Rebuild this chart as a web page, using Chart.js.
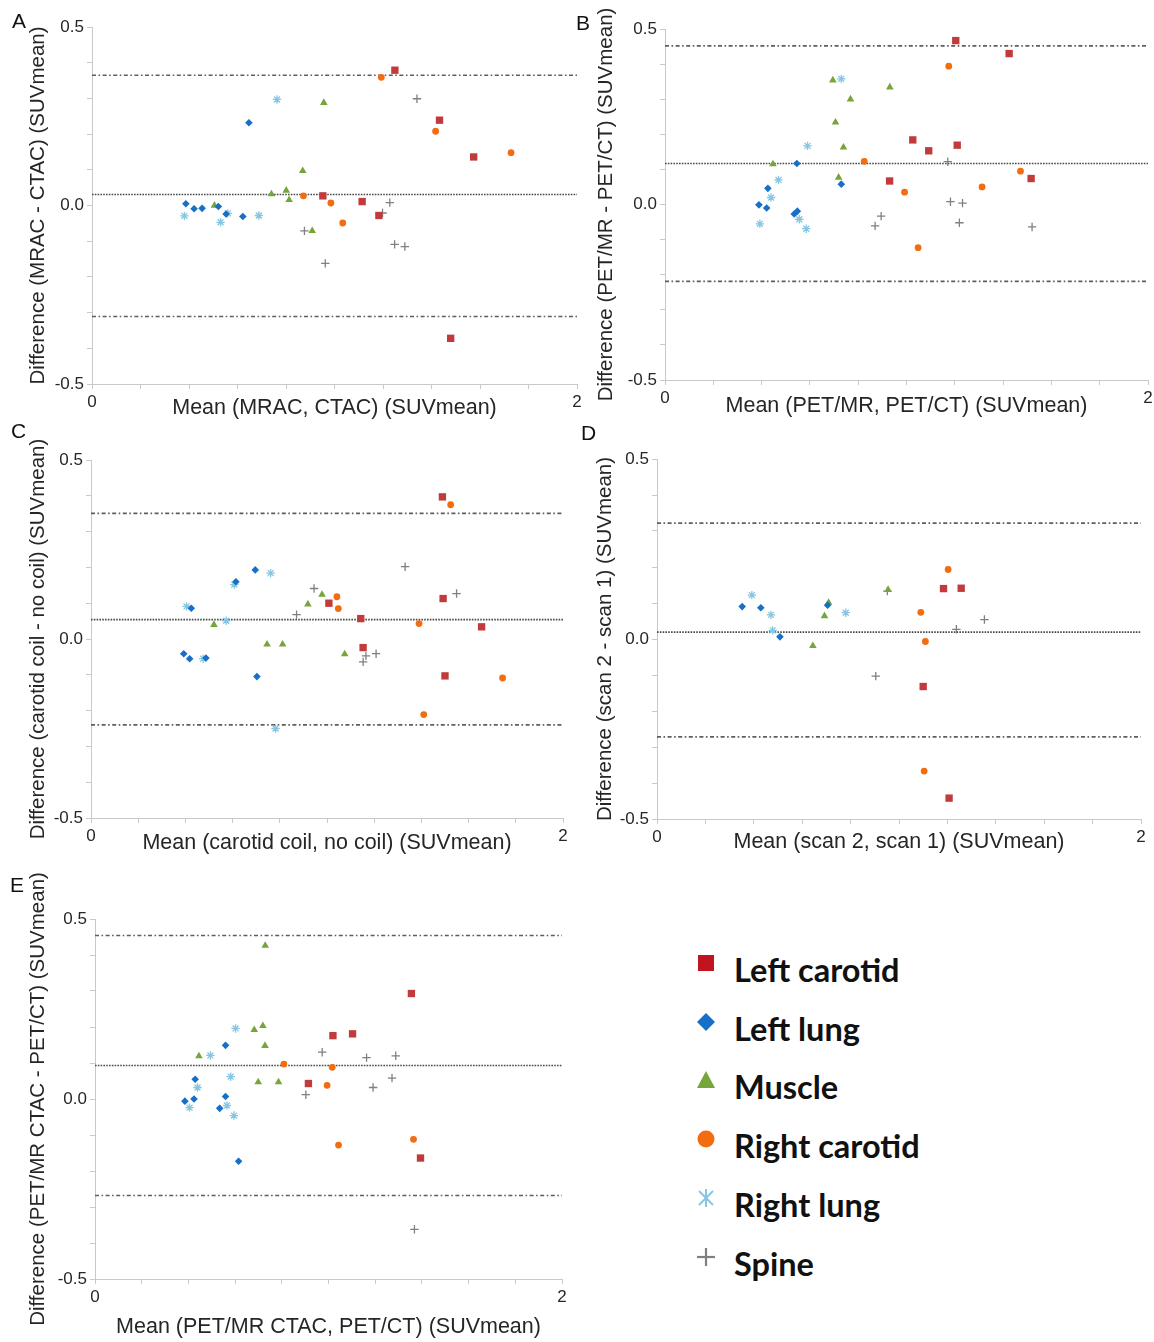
<!DOCTYPE html>
<html><head><meta charset="utf-8">
<script src="https://cdn.jsdelivr.net/npm/chart.js@4/dist/chart.umd.min.js"></script>
<style>
body{margin:0;background:#fff;width:1154px;height:1342px;position:relative;overflow:hidden;font-family:"Liberation Sans",Arial,sans-serif}
.pan{position:absolute}
.letter{position:absolute;font-size:21px;color:#111;line-height:1}
.lrow{position:absolute;font-family:Lato,"Open Sans",sans-serif;font-weight:700;font-size:32.5px;color:#111;line-height:40px;white-space:nowrap}
.lmark{position:absolute}
</style></head><body>
<script>
// ---------- categories ----------
const seriesNames = ['Left carotid','Left lung','Muscle','Right carotid','Right lung','Spine'];
const xTickLabels = ['0','2'];
const yTickLabels = ['0.5','0.0','-0.5'];

// ---------- Panel A: MRAC vs CTAC ----------
const aLeftCarotid  = [[1.249,0.379],[1.433,0.239],[1.574,0.136],[0.952,0.027],[1.114,0.011],[1.183,-0.028],[1.479,-0.372]];
const aLeftLung     = [[0.647,0.232],[0.387,0.005],[0.421,-0.009],[0.454,-0.008],[0.521,-0.003],[0.553,-0.024],[0.622,-0.031]];
const aMuscle       = [[0.956,0.288],[0.869,0.097],[0.740,0.032],[0.801,0.042],[0.813,0.016],[0.505,0.000],[0.908,-0.071]];
const aRightCarotid = [[1.193,0.359],[1.417,0.208],[1.728,0.148],[0.872,0.027],[0.985,0.007],[1.034,-0.049]];
const aRightLung    = [[0.763,0.297],[0.381,-0.029],[0.530,-0.047],[0.560,-0.022],[0.688,-0.028]];
const aSpine        = [[1.340,0.299],[1.228,0.008],[1.198,-0.021],[0.876,-0.071],[0.962,-0.162],[1.248,-0.109],[1.290,-0.115]];
const aLimits       = [0.365, 0.031, -0.311];

// ---------- Panel B: PET/MR vs PET/CT ----------
const bLeftCarotid  = [[1.204,0.467],[1.425,0.430],[1.026,0.184],[1.092,0.153],[1.210,0.169],[0.930,0.067],[1.516,0.074]];
const bLeftLung     = [[0.546,0.117],[0.730,0.058],[0.426,0.046],[0.389,-0.001],[0.421,-0.010],[0.535,-0.027],[0.548,-0.019]];
const bMuscle       = [[0.695,0.354],[0.931,0.334],[0.768,0.300],[0.706,0.234],[0.739,0.163],[0.447,0.115],[0.719,0.077]];
const bRightCarotid = [[1.175,0.394],[0.825,0.123],[1.472,0.095],[0.992,0.035],[1.313,0.050],[1.048,-0.123]];
const bRightLung    = [[0.730,0.358],[0.590,0.167],[0.470,0.070],[0.439,0.020],[0.393,-0.055],[0.556,-0.042],[0.585,-0.069]];
const bSpine        = [[1.171,0.122],[1.182,0.008],[1.232,0.004],[1.219,-0.052],[0.895,-0.033],[0.870,-0.061],[1.520,-0.064]];
const bLimits       = [0.452, 0.117, -0.219];

// ---------- Panel C: carotid coil vs no coil ----------
const cLeftCarotid  = [[1.489,0.397],[1.492,0.113],[1.008,0.100],[1.143,0.057],[1.655,0.034],[1.153,-0.024],[1.500,-0.103]];
const cLeftLung     = [[0.696,0.193],[0.614,0.160],[0.425,0.086],[0.393,-0.041],[0.418,-0.055],[0.487,-0.053],[0.703,-0.105]];
const cMuscle       = [[0.979,0.124],[0.919,0.097],[0.521,0.040],[0.746,-0.015],[0.812,-0.015],[1.075,-0.042]];
const cRightCarotid = [[1.524,0.375],[1.042,0.118],[1.048,0.085],[1.390,0.043],[1.744,-0.109],[1.410,-0.211]];
const cRightLung    = [[0.761,0.184],[0.607,0.152],[0.405,0.091],[0.573,0.051],[0.475,-0.055],[0.782,-0.250]];
const cSpine        = [[1.331,0.202],[1.549,0.127],[0.945,0.141],[0.871,0.068],[1.208,-0.041],[1.165,-0.047],[1.153,-0.064]];
const cLimits       = [0.351, 0.054, -0.240];

// ---------- Panel D: scan 2 vs scan 1 ----------
const dLeftCarotid  = [[1.184,0.140],[1.257,0.141],[1.100,-0.132],[1.207,-0.442]];
const dLeftLung     = [[0.352,0.090],[0.429,0.087],[0.705,0.094],[0.508,0.006]];
const dMuscle       = [[0.955,0.137],[0.709,0.101],[0.692,0.064],[0.644,-0.019]];
const dRightCarotid = [[1.203,0.193],[1.090,0.074],[1.109,-0.007],[1.104,-0.367]];
const dRightLung    = [[0.392,0.122],[0.471,0.067],[0.478,0.024],[0.780,0.073]];
const dSpine        = [[0.952,0.133],[1.353,0.054],[1.237,0.027],[0.904,-0.103]];
const dLimits       = [0.322, 0.019, -0.272];

// ---------- Panel E: PET/MR CTAC vs PET/CT ----------
const eLeftCarotid  = [[1.355,0.293],[1.019,0.176],[1.103,0.181],[0.914,0.043],[1.394,-0.164]];
const eLeftLung     = [[0.559,0.149],[0.429,0.055],[0.385,-0.006],[0.424,0.000],[0.559,0.007],[0.534,-0.026],[0.615,-0.173]];
const eMuscle       = [[0.729,0.426],[0.719,0.203],[0.682,0.192],[0.728,0.148],[0.445,0.119],[0.699,0.047],[0.786,0.047]];
const eRightCarotid = [[0.809,0.097],[1.016,0.088],[0.994,0.038],[1.043,-0.128],[1.364,-0.112]];
const eRightLung    = [[0.602,0.196],[0.494,0.121],[0.581,0.062],[0.439,0.032],[0.405,-0.024],[0.565,-0.018],[0.595,-0.046]];
const eSpine        = [[0.973,0.130],[1.163,0.115],[1.288,0.120],[1.272,0.058],[1.191,0.032],[0.903,0.012],[1.368,-0.362]];
const eLimits       = [0.454, 0.093, -0.268];

// ---------- styles ----------
const styles = [
  {color:'#c13b3d', shape:'rect',     r:5.2, bw:0},
  {color:'#1670c8', shape:'rectRot',  r:3.8, bw:0},
  {color:'#76a53a', shape:'triangle', r:4.4, bw:0},
  {color:'#f26c12', shape:'circle',   r:3.4, bw:0},
  {color:'#86c6e2', shape:'star',     r:4.2, bw:1.3},
  {color:'#808080', shape:'cross',    r:4.2, bw:1.3}
];

const panels = [
  {id:'A', series:[aLeftCarotid,aLeftLung,aMuscle,aRightCarotid,aRightLung,aSpine], limits:aLimits,
   xTitle:'Mean (MRAC, CTAC) (SUVmean)', yTitle:'Difference (MRAC - CTAC) (SUVmean)',
   canvas:[0,0,590,425], area:[92,27,577,384], letter:[12,10]},
  {id:'B', series:[bLeftCarotid,bLeftLung,bMuscle,bRightCarotid,bRightLung,bSpine], limits:bLimits,
   xTitle:'Mean (PET/MR, PET/CT) (SUVmean)', yTitle:'Difference (PET/MR - PET/CT) (SUVmean)',
   canvas:[578,0,576,425], area:[665,29,1148,380], letter:[576,12]},
  {id:'C', series:[cLeftCarotid,cLeftLung,cMuscle,cRightCarotid,cRightLung,cSpine], limits:cLimits,
   xTitle:'Mean (carotid coil, no coil) (SUVmean)', yTitle:'Difference (carotid coil - no coil) (SUVmean)',
   canvas:[0,425,590,430], area:[91,460,563,818], letter:[11,420]},
  {id:'D', series:[dLeftCarotid,dLeftLung,dMuscle,dRightCarotid,dRightLung,dSpine], limits:dLimits,
   xTitle:'Mean (scan 2, scan 1) (SUVmean)', yTitle:'Difference (scan 2 - scan 1) (SUVmean)',
   canvas:[578,425,576,430], area:[657,459,1141,819], letter:[581,422]},
  {id:'E', series:[eLeftCarotid,eLeftLung,eMuscle,eRightCarotid,eRightLung,eSpine], limits:eLimits,
   xTitle:'Mean (PET/MR CTAC, PET/CT) (SUVmean)', yTitle:'Difference (PET/MR CTAC - PET/CT) (SUVmean)',
   canvas:[0,870,590,472], area:[95,919,562,1279], letter:[10,874]}
];

const axisColor = '#c9c9c9';
const textColor = '#262626';
const FONT = '"Liberation Sans", Arial, sans-serif';

panels.forEach(p => {
  const [cx, cy, cw, ch] = p.canvas;
  const [L, T, R, B] = p.area;
  const div = document.createElement('div');
  div.className = 'pan';
  div.style.left = cx + 'px'; div.style.top = cy + 'px';
  div.style.width = cw + 'px'; div.style.height = ch + 'px';
  const cv = document.createElement('canvas');
  cv.width = cw; cv.height = ch;
  div.appendChild(cv);
  document.body.appendChild(div);

  const lt = document.createElement('div');
  lt.className = 'letter';
  lt.style.left = p.letter[0] + 'px'; lt.style.top = p.letter[1] + 'px';
  lt.textContent = p.id;
  document.body.appendChild(lt);

  const yW = L - cx, padTop = T - cy, xH = cy + ch - B, padRight = cx + cw - R;
  const yTitleX = (p.id === 'B' ? 606 : p.id === 'D' ? 605 : 38) - cx;
  const xTitleY = {A:408, B:406, C:843, D:842, E:1327}[p.id] - cy;
  const xFont = 21.5, yFont = 20.5, tickFont = 17;

  const datasets = [];
  p.series.forEach((s, i) => {
    const st = styles[i];
    datasets.push({
      type:'scatter', label: seriesNames[i],
      data: s.map(v => ({x:v[0], y:v[1]})),
      pointStyle: st.shape, pointRadius: st.r, pointHoverRadius: st.r,
      backgroundColor: st.color, borderColor: st.color, borderWidth: st.bw,
      order: 1
    });
  });
  p.limits.forEach((v, k) => {
    datasets.push({
      type:'line', label:'lim'+k,
      data:[{x:0,y:v},{x:2,y:v}],
      borderColor: k === 1 ? '#4a4a4a' : '#5e5e5e',
      borderWidth: 1.6,
      borderDash: k === 1 ? [1.6,1.2] : [4,2.5,1.6,2.5],
      pointRadius:0, fill:false, order: 5
    });
  });

  new Chart(cv, {
    type:'scatter',
    data:{datasets},
    options:{
      responsive:false, animation:false, events:[],
      layout:{padding:{left:0, top:padTop, right:padRight, bottom:0}},
      plugins:{legend:{display:false}, tooltip:{enabled:false}},
      scales:{
        x:{
          type:'linear', min:0, max:2,
          ticks:{stepSize:0.2, color:textColor, font:{family:FONT, size:tickFont}, padding:3, maxRotation:0, autoSkip:false,
            callback:(val)=> Math.abs(val) < 1e-6 ? xTickLabels[0] : (Math.abs(val-2) < 1e-6 ? xTickLabels[1] : '')},
          grid:{display:true, drawOnChartArea:false, drawTicks:true, tickLength:5, color:axisColor},
          border:{display:true, color:axisColor, width:1},
          title:{display:true, text:p.xTitle, color:textColor, font:{family:FONT, size:xFont},
            padding:{top:0, bottom: (ch - xTitleY) - xFont*1.2/2}},
          afterFit:(sc)=>{ sc.height = xH; sc.paddingLeft = 0; sc.paddingRight = 0; }
        },
        y:{
          type:'linear', min:-0.5, max:0.5,
          ticks:{stepSize:0.1, color:textColor, font:{family:FONT, size:tickFont}, padding:3, autoSkip:false,
            callback:(val)=> Math.abs(val-0.5)<1e-6 ? yTickLabels[0] : (Math.abs(val)<1e-6 ? yTickLabels[1] : (Math.abs(val+0.5)<1e-6 ? yTickLabels[2] : ''))},
          grid:{display:true, drawOnChartArea:false, drawTicks:true, tickLength:5, color:axisColor},
          border:{display:true, color:axisColor, width:1},
          title:{display:true, text:p.yTitle, color:textColor, font:{family:FONT, size:yFont},
            padding:{top: yTitleX - yFont*1.2/2, bottom:0}},
          afterFit:(sc)=>{ sc.width = yW; sc.paddingTop = 0; sc.paddingBottom = 0; }
        }
      }
    }
  });
});

// ---------- legend (HTML) ----------
const legendRows = [971, 1030, 1088, 1147, 1206, 1265];
const markerSvg = [
  '<rect x="2" y="2" width="16" height="16" fill="#c3131f"/>',
  '<polygon points="10,1 19,10 10,19 1,10" fill="#1670c8"/>',
  '<polygon points="10,1 19,18 1,18" fill="#76a53a"/>',
  '<circle cx="10" cy="10" r="8.5" fill="#f26c12"/>',
  '<g stroke="#86c6e2" stroke-width="2"><line x1="3" y1="3" x2="17" y2="17"/><line x1="17" y1="3" x2="3" y2="17"/><line x1="10" y1="1" x2="10" y2="19"/></g>',
  '<g stroke="#808080" stroke-width="2.2"><line x1="10" y1="1" x2="10" y2="19"/><line x1="1" y1="10" x2="19" y2="10"/></g>'
];
seriesNames.forEach((n, i) => {
  const cyRow = legendRows[i];
  const m = document.createElement('div');
  m.className = 'lmark';
  m.style.left = '696px'; m.style.top = (cyRow - 18) + 'px';
  m.innerHTML = '<svg width="20" height="20" viewBox="0 0 20 20">' + markerSvg[i] + '</svg>';
  document.body.appendChild(m);
  const t = document.createElement('div');
  t.className = 'lrow';
  t.style.left = '734px'; t.style.top = (cyRow - 21) + 'px';
  t.textContent = n;
  document.body.appendChild(t);
});
</script>
</body></html>
